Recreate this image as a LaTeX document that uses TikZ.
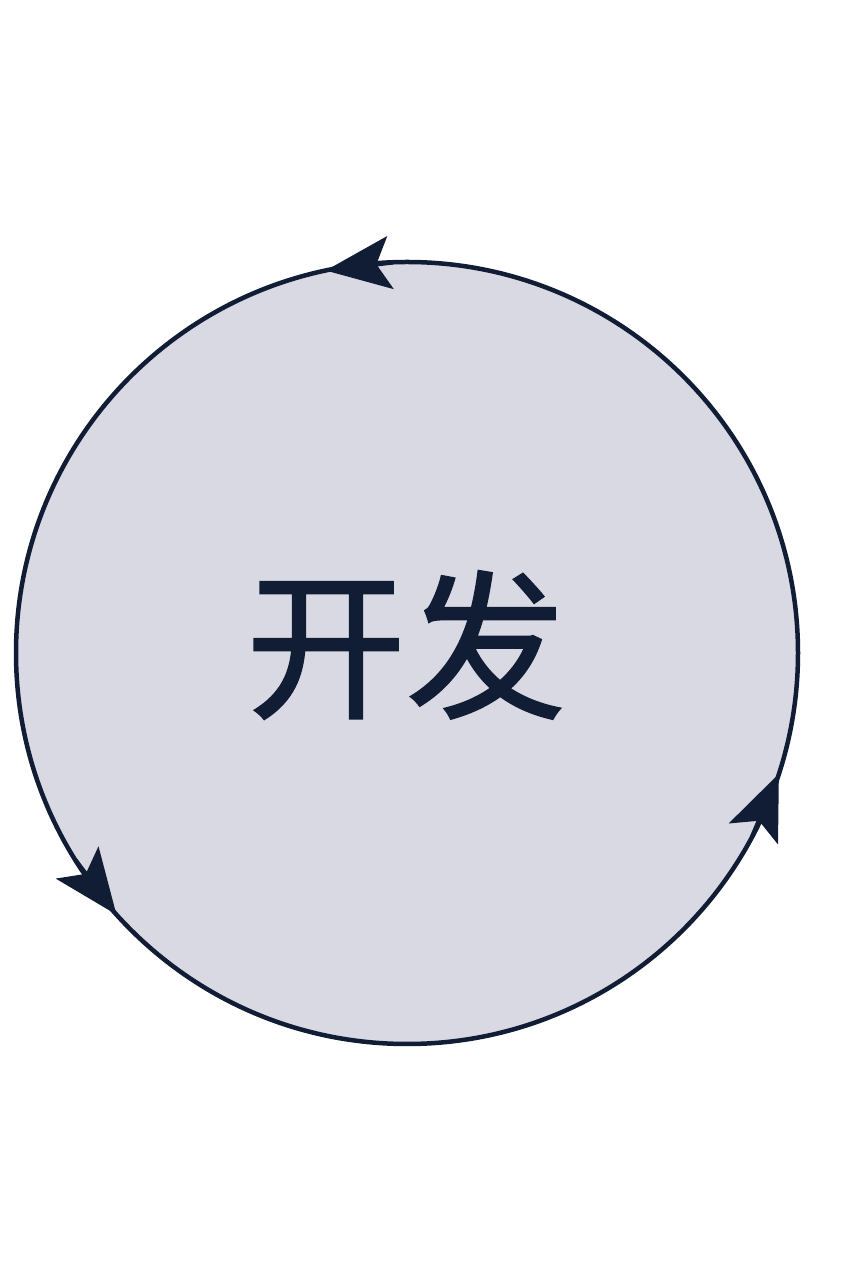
\documentclass[tikz,border=0pt]{standalone}
\usepackage{fontspec}
\newfontfamily\cjk[FakeBold=1.2]{Noto Sans CJK SC}
\usetikzlibrary{arrows.meta}
\definecolor{ringfill}{HTML}{D9D9E3}
\definecolor{ringline}{HTML}{101D35}

\begin{document}
\begin{tikzpicture}[x=1pt,y=1pt,
  ring/.style={circle,fill=ringfill,draw=ringline,line width=4.5pt,
    minimum size=782pt,inner sep=0pt,outer sep=0pt},
  cycle tip/.style={draw=ringline,line width=4.5pt,
    -{Stealth[length=65pt,width=53pt,inset=14pt]}}]
  \useasboundingbox (0,0) rectangle (842,1264);
  \node[ring] (kaifa) at (407,611) {};
  \node[text=ringline,font=\cjk\fontsize{160}{160}\selectfont] (label) at (406,619) {开发};
  % arrow heads, counterclockwise
  \draw[cycle tip] (kaifa.92) -- (kaifa.102);
  \draw[cycle tip] (kaifa.212) -- (kaifa.222);
  \draw[cycle tip] (kaifa.332) -- (kaifa.342);
\end{tikzpicture}
\end{document}
